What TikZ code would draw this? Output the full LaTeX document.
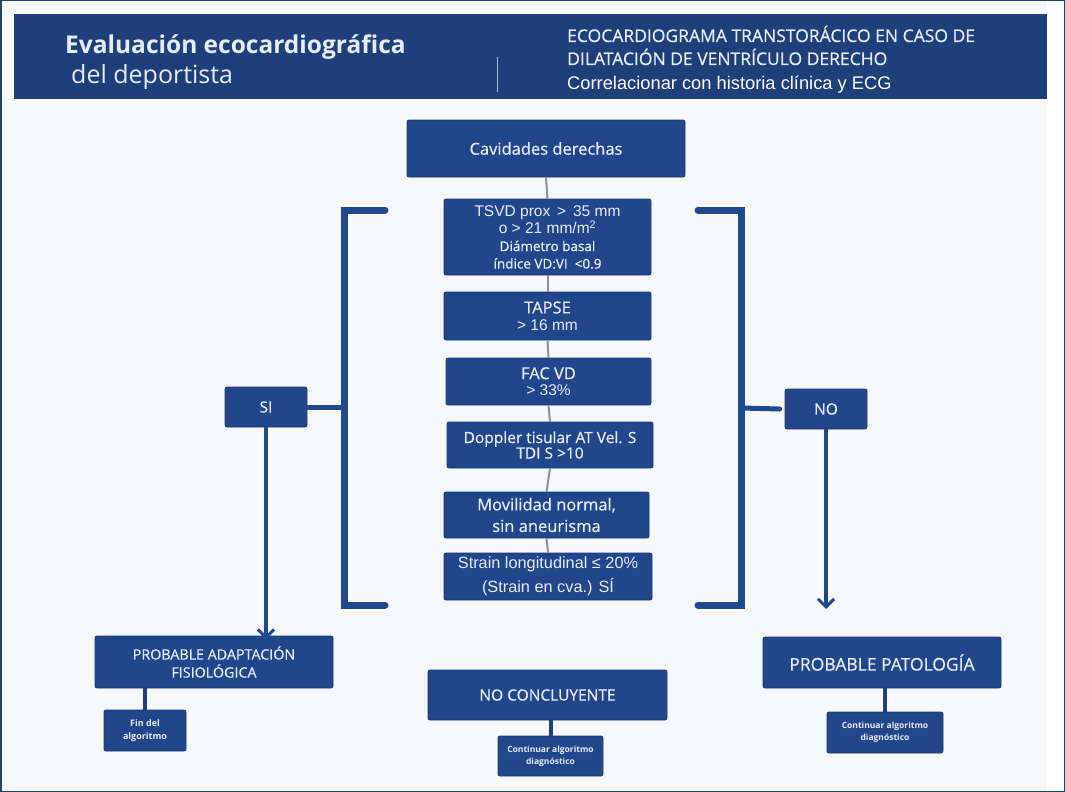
\documentclass[tikz,border=0pt]{standalone}
\usepackage{fontspec}
\setmainfont{Liberation Sans}
\newfontfamily\plex{Open Sans}
\newfontfamily\plexm{Open Sans}[FakeBold=0.6]
\usetikzlibrary{arrows.meta}
\definecolor{navy}{HTML}{21468B}
\definecolor{hdr}{HTML}{1F3F7B}
\definecolor{bline}{HTML}{1F4A8E}
\definecolor{txt}{HTML}{E6EDF7}
\definecolor{bg}{HTML}{F7F8FA}
\definecolor{frame}{HTML}{1D4466}
\definecolor{cline}{HTML}{8E9198}
\begin{document}
\begin{tikzpicture}[x=1pt,y=-1pt,
  bx/.style={draw=navy!80!black, line width=0.8pt, fill=navy, rounded corners=2pt, text=txt, align=center, inner sep=0pt},
  brk/.style={draw=bline, line width=7pt, line cap=round, line join=miter},
  arr/.style={draw=bline, line width=3.5pt, -{Straight Barb[length=8pt,width=16pt,line width=3pt]}},
  sub/.style={draw=hdr, line width=4pt},
  ctr/.style={draw=cline, line width=2pt}]
\useasboundingbox (0,0) rectangle (1065,792);
\fill[bg] (0,0) rectangle (1065,792);
\fill[white] (1047,0) rectangle (1065,792);
\draw[frame, line width=1.5pt] (0.75,0.75) rectangle (1064.25,791.25);
% header
\fill[hdr] (14,14) rectangle (1047,99);
\node[anchor=base west, text=txt, inner sep=0pt, font=\plex\bfseries\fontsize{24.5}{26}\selectfont] (t1) at (65,53) {Evaluación ecocardiográfica};
\node[anchor=base west, text=txt, inner sep=0pt, font=\plex\fontsize{25}{26}\selectfont] (t2) at (71,84) {del deportista};
\draw[txt!70!hdr, line width=1pt] (497,57) -- (497,92);
\node[anchor=base west, text=txt, inner sep=0pt, font=\plexm\fontsize{17.5}{18}\selectfont] (h1) at (567,42) {ECOCARDIOGRAMA TRANSTORÁCICO EN CASO DE};
\node[anchor=base west, text=txt, inner sep=0pt, font=\plexm\fontsize{17.5}{18}\selectfont] (h2) at (567,65) {DILATACIÓN DE VENTRÍCULO DERECHO};
\node[anchor=base west, text=white, inner sep=0pt, font=\fontsize{18.3}{19}\selectfont] (h3) at (567,89) {Correlacionar con historia clínica y ECG};
% central column
\node[bx, minimum width=278pt, minimum height=57pt, font=\plexm\fontsize{16.5}{18}\selectfont] (cav) at (546,148.5) {Cavidades derechas};
\node[bx, minimum width=207pt, minimum height=76pt, font=\fontsize{15.5}{17.5}\selectfont] (b1) at (547.5,237) {TSVD prox \,>\, 35 mm\\o > 21 mm/m\textsuperscript{2}\\\plexm\fontsize{13.5}{17.5}\selectfont Diámetro basal\\\plexm\fontsize{13.5}{17.5}\selectfont índice VD:VI \ <0.9};
\node[bx, minimum width=207pt, minimum height=48pt, font=\fontsize{15.5}{17}\selectfont] (b2) at (547.5,316) {\plexm\fontsize{16.5}{17}\selectfont TAPSE\\> 16 mm};
\node[bx, minimum width=205pt, minimum height=47pt, font=\fontsize{15.5}{16.5}\selectfont] (b3) at (548.5,381.5) {\plexm\fontsize{16.5}{16.5}\selectfont FAC VD\\> 33\%};
\node[bx, minimum width=206pt, minimum height=46pt, font=\plexm\fontsize{15.5}{15.5}\selectfont] (b4) at (550,445) {Doppler tisular AT Vel. S\\TDI S >10};
\node[bx, minimum width=205pt, minimum height=46pt, font=\plexm\fontsize{16.5}{21.5}\selectfont] (b5) at (546.5,515) {Movilidad normal,\\sin aneurisma};
\node[bx, minimum width=208pt, minimum height=47pt, font=\fontsize{16.3}{23.5}\selectfont] (b6) at (548,576.5) {Strain longitudinal ≤ 20\%\\(Strain en cva.) SÍ};
% brackets
\coordinate (lt) at (385,210); \coordinate (ltc) at (344,210);
\coordinate (lbc) at (344,605); \coordinate (lb) at (385,605);
\coordinate (lm) at (344,407);
\draw[brk] (lt) -- (ltc) -- (lbc) -- (lb);
\coordinate (rt) at (698,210); \coordinate (rtc) at (741,210);
\coordinate (rbc) at (741,605); \coordinate (rb) at (698,605);
\coordinate (rm) at (741,408);
\draw[brk] (rt) -- (rtc) -- (rbc) -- (rb);
\node[bx, minimum width=82pt, minimum height=40pt, font=\plexm\fontsize{15.5}{18}\selectfont] (si) at (266,407) {SI};
\node[bx, minimum width=82pt, minimum height=40pt, font=\plexm\fontsize{15.5}{18}\selectfont] (no) at (826,409) {NO};
\draw[draw=bline, line width=5pt] (si.east) -- (lm);
\draw[draw=bline, line width=5pt, line cap=round] (rm) -- ([xshift=-5pt]no.west);
% outcomes
\node[bx, minimum width=238pt, minimum height=52pt, font=\plexm\fontsize{14.3}{18}\selectfont] (pa) at (214,662) {PROBABLE ADAPTACIÓN\\FISIOLÓGICA};
\node[bx, minimum width=82pt, minimum height=41pt, font=\plex\bfseries\fontsize{9}{13}\selectfont] (fin) at (145,730.5) {Fin del\\algoritmo};
\node[bx, minimum width=239pt, minimum height=50pt, font=\plexm\fontsize{15.5}{18}\selectfont] (nc) at (547.5,695) {NO CONCLUYENTE};
\node[bx, minimum width=105pt, minimum height=40pt, font=\plex\bfseries\fontsize{8.5}{12}\selectfont] (nc2) at (550.5,756) {Continuar algoritmo\\diagnóstico};
\node[bx, minimum width=238pt, minimum height=51pt, font=\plexm\fontsize{17.5}{18}\selectfont] (pp) at (882,662.5) {PROBABLE PATOLOGÍA};
\node[bx, minimum width=116pt, minimum height=41pt, font=\plex\bfseries\fontsize{8.5}{12}\selectfont] (pp2) at (885,732.5) {Continuar algoritmo\\diagnóstico};
% central line
\draw[ctr] (cav.south) -- (b1.north);
\draw[ctr] (b1.south) -- (b2.north);
\draw[ctr] (b2.south) -- (b3.north);
\draw[ctr] (b3.south) -- (b4.north);
\draw[ctr] (b4.south) -- (b5.north);
\draw[ctr] (b5.south) -- (b6.north);
% arrows
\draw[arr] (si.south) -- ([yshift=-4pt]si.south |- pa.north);
\draw[arr] (no.south) -- (826,609);
\draw[sub] (pa.south -| fin.north) -- (fin.north);
\draw[sub] (nc.south -| nc2.north) -- (nc2.north);
\draw[sub] (pp.south -| pp2.north) -- (pp2.north);
\end{tikzpicture}
\end{document}
